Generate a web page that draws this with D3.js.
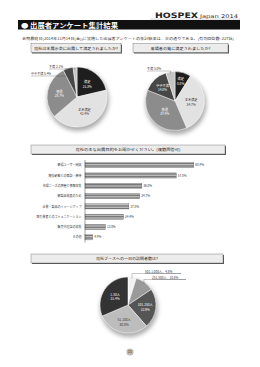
<!DOCTYPE html>
<html>
<head>
<meta charset="utf-8">
<script src="https://cdn.jsdelivr.net/npm/d3@7"></script>
<style>
  html, body { margin: 0; padding: 0; background: #fff; }
  svg { display: block; font-family: "Noto Sans CJK JP", "Noto Sans", sans-serif; }
</style>
</head>
<body>
<script>
// データ
const q1Labels = ["満足", "まあ満足", "普通", "やや不満", "不満"];
const q1Values = [21.3, 42.4, 28.7, 5.4, 2.1];
const q2Labels = ["満足", "まあ満足", "普通", "やや不満", "不満"];
const q2Values = [8.8, 34.7, 37.4, 14.0, 5.0];
const purposeLabels = ["新規ユーザー開拓", "既存顧客との商談・接待", "市場ニーズの把握と情報収集",
  "新製品発表のため", "企業・製品のイメージアップ", "取引業者とのコミュニケーション",
  "販売代理店の募集", "その他"];
const purposeValues = [68.9, 57.8, 36.0, 34.7, 27.8, 24.4, 13.0, 4.9];
const visitorLabels = ["501-1,000人", "251-500人", "101-250人", "51-100人", "1-50人"];
const visitorValues = [4.8, 10.8, 22.9, 30.0, 31.4];

const width = 260, height = 367;
const svg = d3.select("body").append("svg")
  .attr("width", width).attr("height", height);

const defs = svg.append("defs");
// 棒グラフのストライプ
const pat = defs.append("pattern").attr("id", "stripe")
  .attr("patternUnits", "userSpaceOnUse").attr("width", 4).attr("height", 1.6);
pat.append("rect").attr("width", 4).attr("height", 1.6).attr("fill", "#c8c8c8");
pat.append("rect").attr("width", 4).attr("height", 0.8).attr("fill", "#6e6e6e");
// 影
defs.append("filter").attr("id", "blur").append("feGaussianBlur").attr("stdDeviation", 2);

// ヘッダー
svg.append("text").attr("x", 155).attr("y", 18)
  .attr("font-size", 7.5).attr("font-weight", 900).attr("font-family", "DejaVu Sans")
  .attr("textLength", 43).attr("lengthAdjust", "spacingAndGlyphs")
  .attr("fill", "#222").text("HOSPEX");
svg.append("text").attr("x", 200).attr("y", 18)
  .attr("font-size", 5).attr("fill", "#333").attr("font-family", "DejaVu Sans")
  .attr("textLength", 38).attr("lengthAdjust", "spacingAndGlyphs")
  .text("Japan 2014");
svg.append("line").attr("x1", 150).attr("x2", 240).attr("y1", 19).attr("y2", 19)
  .attr("stroke", "#bbb").attr("stroke-width", 0.6);
svg.append("rect").attr("x", 18).attr("y", 20).attr("width", 222).attr("height", 9.5).attr("fill", "#111");
svg.append("text").attr("x", 21).attr("y", 27.6)
  .attr("font-size", 6.3).attr("font-weight", 700).attr("fill", "#fff")
  .attr("textLength", 97).attr("lengthAdjust", "spacingAndGlyphs")
  .text("● 出展者アンケート集計結果");

svg.append("text").attr("x", 22).attr("y", 39.5)
  .attr("font-size", 3).attr("fill", "#333")
  .attr("textLength", 212).attr("lengthAdjust", "spacingAndGlyphs")
  .text("会期最終日(2014年11月14日(金))に実施した出展者アンケートの集計結果は、次の通りである。(有効回答数: 227社)");

// 設問ボックス
function questionBox(x, y, w, text, tl) {
  svg.append("rect").attr("x", x + 1).attr("y", y + 1).attr("width", w).attr("height", 9).attr("fill", "#555");
  svg.append("rect").attr("x", x).attr("y", y).attr("width", w).attr("height", 9)
    .attr("fill", "#ececec").attr("stroke", "#666").attr("stroke-width", 0.4);
  svg.append("text").attr("x", x + w / 2).attr("y", y + 6.2)
    .attr("text-anchor", "middle").attr("font-size", 3.9).attr("fill", "#222")
    .attr("textLength", tl).attr("lengthAdjust", "spacingAndGlyphs").text(text);
}
questionBox(31, 43.5, 90, "貴社は本展示会に出展して満足されましたか?", 84);
questionBox(133, 43.5, 95, "来場者の質に満足されましたか?", 60);
questionBox(31, 145, 194, "貴社の主な出展目的をお聞かせください。(複数回答可)", 105);
questionBox(31, 254, 192, "貴社ブースへの一日の訪問者数は?", 62);

// 円グラフ
function drawPie(cx, cy, r, labels, values, colors, labelConf) {
  const g = svg.append("g").attr("transform", `translate(${cx},${cy})`);
  g.append("ellipse").attr("cx", 1).attr("cy", 3).attr("rx", r + 1).attr("ry", r + 1)
    .attr("fill", "#999").attr("filter", "url(#blur)").attr("opacity", 0.8);
  const arcs = d3.pie().sort(null).value(d => d)(values);
  const arc = d3.arc().innerRadius(0).outerRadius(r);
  g.selectAll("path.slice").data(arcs).enter().append("path")
    .attr("class", "slice").attr("d", arc)
    .attr("fill", (d, i) => colors[i]).attr("stroke", "#fff").attr("stroke-width", 0.5);
  arcs.forEach((d, i) => {
    const c = labelConf[i];
    const mid = (d.startAngle + d.endAngle) / 2;
    if (c.outside) {
      const px = Math.sin(mid) * r * 0.95, py = -Math.cos(mid) * r * 0.95;
      g.append("polyline")
        .attr("points", `${px},${py} ${px},${c.y + 1} ${c.x + c.w},${c.y + 1} ${c.x},${c.y + 1}`)
        .attr("fill", "none").attr("stroke", "#444").attr("stroke-width", 0.3);
      g.append("text").attr("x", c.x).attr("y", c.y)
        .attr("font-size", 3.1).attr("fill", "#333")
        .text(c.text(labels[i], values[i]));
    } else {
      const a = d3.arc().innerRadius(r * c.k).outerRadius(r * c.k).centroid(d);
      const t = g.append("text").attr("text-anchor", "middle").attr("font-size", 3.2)
        .attr("fill", c.fill);
      t.append("tspan").attr("x", a[0]).attr("y", a[1] - 0.8).text(labels[i]);
      t.append("tspan").attr("x", a[0]).attr("y", a[1] + 3.6).text(values[i].toFixed(1) + "%");
    }
  });
}

const satColors = ["#1e1e1e", "#e2e2e2", "#8c8c8c", "#474747", "#c4c4c4"];
const inL = (k, fill) => ({ k, fill });
drawPie(77, 97, 30, q1Labels, q1Values, satColors, [
  inL(0.55, "#fff"), inL(0.55, "#333"), inL(0.6, "#fff"),
  { outside: true, x: -46, y: -22, w: 20, text: (l, v) => `${l}  ${v.toFixed(1)}%` },
  { outside: true, x: -28, y: -29, w: 14, text: (l, v) => `${l}  ${v.toFixed(1)}%` }
]);
drawPie(175, 101, 29.5, q2Labels, q2Values, satColors, [
  inL(0.7, "#fff"), inL(0.55, "#333"), inL(0.5, "#fff"), inL(0.62, "#fff"),
  { outside: true, x: -28, y: -31, w: 14, text: (l, v) => `${l}  ${v.toFixed(1)}%` }
]);

const visColors = ["#f2f2f2", "#9a9a9a", "#555555", "#bdbdbd", "#333333"];
drawPie(128, 305, 28, visitorLabels, visitorValues, visColors, [
  { outside: true, x: 17, y: -32.5, w: 36, text: (l, v) => `${l}、${v.toFixed(1)}%` },
  { outside: true, x: 24, y: -26.5, w: 34, text: (l, v) => `${l}、${v.toFixed(1)}%` },
  inL(0.62, "#fff"), inL(0.62, "#333"), inL(0.55, "#fff")
]);

// 棒グラフ
const x = d3.scaleLinear().domain([0, 100]).range([85, 243]);
const y = d3.scaleBand().domain(purposeLabels).range([160, 242.5]).paddingInner(0.5).paddingOuter(0.25);
const bars = svg.append("g");
bars.selectAll("rect").data(purposeValues).enter().append("rect")
  .attr("x", x(0)).attr("y", (d, i) => y(purposeLabels[i]))
  .attr("width", d => x(d) - x(0)).attr("height", y.bandwidth())
  .attr("fill", "url(#stripe)").attr("stroke", "#555").attr("stroke-width", 0.3);
bars.selectAll("text.val").data(purposeValues).enter().append("text").attr("class", "val")
  .attr("x", d => x(d) + 1.5).attr("y", (d, i) => y(purposeLabels[i]) + y.bandwidth() / 2 + 1.1)
  .attr("font-size", 3).attr("fill", "#333").text(d => d.toFixed(1) + "%");
bars.selectAll("text.cat").data(purposeLabels).enter().append("text").attr("class", "cat")
  .attr("x", 81.5).attr("y", d => y(d) + y.bandwidth() / 2 + 1.1)
  .attr("text-anchor", "end").attr("font-size", 3).attr("fill", "#333").text(d => d);
svg.append("line").attr("x1", x(0)).attr("x2", x(0)).attr("y1", 160).attr("y2", 242.5)
  .attr("stroke", "#444").attr("stroke-width", 0.5);

// ページ番号
svg.append("circle").attr("cx", 130).attr("cy", 352).attr("r", 3.6).attr("fill", "#bbb");
svg.append("text").attr("x", 130).attr("y", 353.3).attr("text-anchor", "middle")
  .attr("font-size", 3.6).attr("fill", "#222").text("11");
</script>
</body>
</html>
